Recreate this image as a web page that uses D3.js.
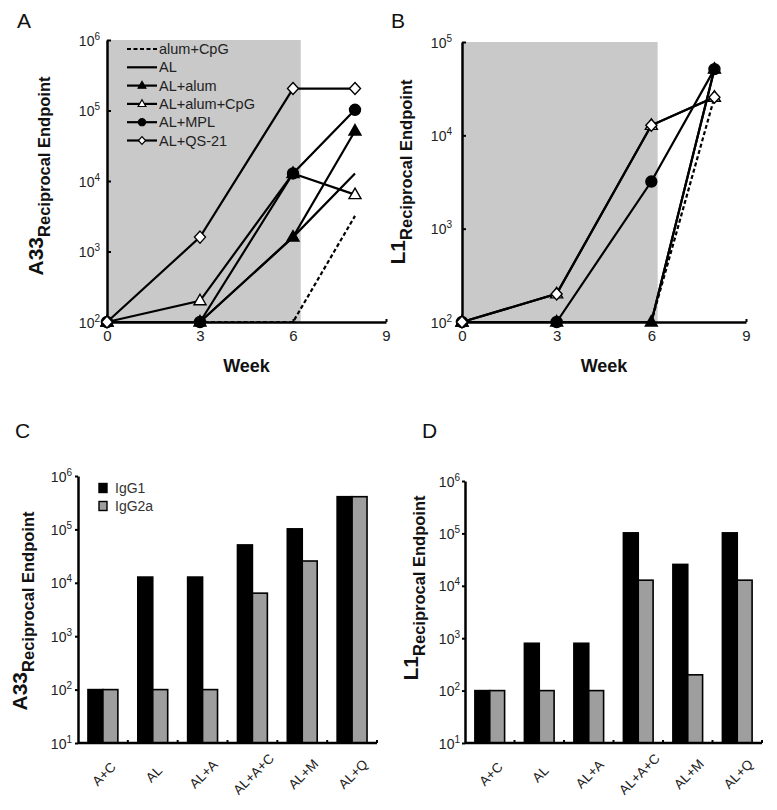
<!DOCTYPE html>
<html>
<head>
<meta charset="utf-8">
<script src="https://cdn.jsdelivr.net/npm/d3@7"></script>
<style>
body { margin: 0; background: #fff; }
text { font-family: "Liberation Sans", Arial, Helvetica, sans-serif; }
</style>
</head>
<body>
<svg id="fig" width="777" height="810"></svg>
<script>
// ---- data ----
var weeks = [0, 3, 6, 8];
var seriesNames = ["alum+CpG", "AL", "AL+alum", "AL+alum+CpG", "AL+MPL", "AL+QS-21"];

// panel A, A33 reciprocal endpoint
var a33AlumCpG   = [100, 100, 100, 3200];
var a33AL        = [100, 100, 1600, 12800];
var a33ALAlum    = [100, 100, 1600, 51200];
var a33ALAlumCpG = [100, 200, 12800, 6400];
var a33ALMPL     = [100, 100, 12800, 102400];
var a33ALQS21    = [100, 1600, 204800, 204800];

// panel B, L1 reciprocal endpoint
var l1AlumCpG   = [100, 100, 100, 25600];
var l1AL        = [100, 100, 100, 51200];
var l1ALAlum    = [100, 100, 100, 51200];
var l1ALAlumCpG = [100, 200, 12800, 25600];
var l1ALMPL     = [100, 100, 3200, 51200];
var l1ALQS21    = [100, 200, 12800, 25600];

// panels C and D, isotypes
var groups = ["A+C", "AL", "AL+A", "AL+A+C", "AL+M", "AL+Q"];
var isotypes = ["IgG1", "IgG2a"];
var a33IgG1  = [100, 12800, 12800, 51200, 102400, 409600];
var a33IgG2a = [100, 100, 100, 6400, 25600, 409600];
var l1IgG1   = [100, 800, 800, 102400, 25600, 102400];
var l1IgG2a  = [100, 100, 100, 12800, 200, 12800];

var weekTicks = [0, 3, 6, 9];

// ---- drawing ----
var svg = d3.select("#fig");

// line style + marker per series (same order as seriesNames)
var dashes  = ["4,2.5", null, null, null, null, null];
var markers = [null, null, "triFill", "triOpen", "dotFill", "diaOpen"];

function markerPath(kind, s) {
    if (kind == "triFill" || kind == "triOpen")
        return "M0," + (-6.5 * s) + "L" + (6 * s) + "," + (4 * s) + "L" + (-6 * s) + "," + (4 * s) + "Z";
    if (kind == "diaOpen")
        return "M0," + (-6 * s) + "L" + (5.5 * s) + ",0L0," + (6 * s) + "L" + (-5.5 * s) + ",0Z";
    return d3.symbol().type(d3.symbolCircle).size(95 * s * s)();
}
function markerFill(kind) {
    return (kind == "triFill" || kind == "dotFill") ? "#000" : "#fff";
}

function powLabel(sel, exps, dx) {
    // replaces tick text with 10 + superscript
    sel.selectAll(".tick text").each(function (d) {
        var t = d3.select(this).text(null)
            .attr("x", dx).attr("dy", "0.36em")
            .attr("fill", "#222").attr("font-size", 14)
            .attr("text-anchor", "end");
        t.append("tspan").text("10");
        t.append("tspan").attr("font-size", 10).attr("dy", "-0.6em")
            .text(Math.round(Math.log10(d)));
    });
}

function yTitle(x, y, main, sub, mainSize, subSize) {
    var t = svg.append("text")
        .attr("transform", "translate(" + x + "," + y + ") rotate(-90)")
        .attr("text-anchor", "middle")
        .attr("font-weight", "bold")
        .attr("fill", "#111");
    t.append("tspan").attr("font-size", mainSize).text(main);
    t.append("tspan").attr("font-size", subSize).attr("dy", subSize * 0.45).text(sub);
}

function letter(x, y, s) {
    svg.append("text").attr("x", x).attr("y", y)
        .attr("font-size", 21).attr("fill", "#111").text(s);
}

function linePanel(p) {
    var x = d3.scaleLinear().domain([0, 9]).range([p.left, p.right]);
    var y = d3.scaleLog().domain(p.yDomain).range([p.bottom, p.top]);
    var g = svg.append("g");

    // shaded immunisation period
    g.append("rect")
        .attr("x", x(0)).attr("y", y(p.yDomain[1]))
        .attr("width", x(p.shadeEnd) - x(0))
        .attr("height", y(p.yDomain[0]) - y(p.yDomain[1]))
        .attr("fill", "#c9c9c9");

    var line = d3.line().x((d, i) => x(weeks[i])).y(d => y(d));
    p.series.forEach((vals, k) => {
        g.append("path").datum(vals)
            .attr("d", line)
            .attr("fill", "none").attr("stroke", "#000")
            .attr("stroke-width", 2.2)
            .attr("stroke-dasharray", dashes[k]);
    });

    // axes
    var yAxis = g.append("g").attr("transform", "translate(" + x(0) + ",0)")
        .call(d3.axisLeft(y).tickValues(p.yTicks).tickSizeInner(-4).tickSizeOuter(0).tickPadding(p.yPad));
    yAxis.select(".domain").attr("stroke-width", 2.5);
    yAxis.selectAll(".tick line").attr("stroke-width", 2);
    powLabel(yAxis, p.yTicks, -p.yPad);

    var xAxis = g.append("g").attr("transform", "translate(0," + y(p.yDomain[0]) + ")")
        .call(d3.axisBottom(x).tickValues(weekTicks).tickSizeInner(-3).tickSizeOuter(0).tickPadding(8));
    xAxis.select(".domain").attr("stroke-width", 2.5);
    xAxis.selectAll(".tick line").attr("stroke-width", 2);
    xAxis.selectAll(".tick text").attr("font-size", 15).attr("fill", "#222");

    // markers on top
    p.series.forEach((vals, k) => {
        if (!markers[k]) return;
        g.selectAll(null).data(vals).enter().append("path")
            .attr("transform", (d, i) => "translate(" + x(weeks[i]) + "," + y(d) + ")")
            .attr("d", markerPath(markers[k], 1))
            .attr("fill", markerFill(markers[k]))
            .attr("stroke", "#000").attr("stroke-width", 1.4);
    });

    svg.append("text")
        .attr("x", (p.left + p.right) / 2).attr("y", 372)
        .attr("text-anchor", "middle").attr("font-weight", "bold")
        .attr("font-size", 18).attr("fill", "#111").text("Week");
}

function barPanel(p) {
    var x = d3.scaleBand().domain(groups).range([p.left, p.right])
        .paddingInner(0.4).paddingOuter(0.2);
    var xs = d3.scaleBand().domain(isotypes).range([0, x.bandwidth()]);
    var y = d3.scaleLog().domain([10, 1e6]).range([p.bottom, p.top]);
    var fills = { IgG1: "#000", IgG2a: "#9e9e9e" };
    var g = svg.append("g");

    [p.igg1, p.igg2a].forEach((vals, k) => {
        var iso = isotypes[k];
        g.selectAll(null).data(vals).enter().append("rect")
            .attr("x", (d, i) => x(groups[i]) + xs(iso))
            .attr("y", d => y(d))
            .attr("width", xs.bandwidth())
            .attr("height", d => y(10) - y(d))
            .attr("fill", fills[iso])
            .attr("stroke", "#000").attr("stroke-width", 1.6);
    });

    var yTicks = [10, 100, 1e3, 1e4, 1e5, 1e6];
    var yAxis = g.append("g").attr("transform", "translate(" + p.left + ",0)")
        .call(d3.axisLeft(y).tickValues(yTicks).tickSizeInner(3).tickSizeOuter(0).tickPadding(p.yPad));
    yAxis.select(".domain").attr("stroke-width", 2.5);
    yAxis.selectAll(".tick line").attr("stroke-width", 2);
    powLabel(yAxis, yTicks, -p.yPad);

    // x axis with small marks between groups
    var bounds = d3.range(1, groups.length + 1).map(i => p.left + x.step() * i);
    g.append("line").attr("x1", p.left).attr("x2", p.right)
        .attr("y1", y(10)).attr("y2", y(10))
        .attr("stroke", "#000").attr("stroke-width", 2.5);
    g.selectAll(null).data(bounds).enter().append("line")
        .attr("x1", d => d).attr("x2", d => d)
        .attr("y1", y(10) - 3).attr("y2", y(10))
        .attr("stroke", "#000").attr("stroke-width", 2);

    g.selectAll(null).data(groups).enter().append("text")
        .attr("transform", d => "translate(" + (x(d) + x.bandwidth() / 2 + 1) + "," + (y(10) + 31) + ") rotate(-45)")
        .attr("text-anchor", "middle").attr("dy", "0.35em")
        .attr("font-size", 13.5).attr("fill", "#222")
        .text(d => d);
}

// panel A
letter(17, 28, "A");
linePanel({
    left: 107, right: 386, top: 40, bottom: 322,
    yDomain: [100, 1e6], yTicks: [100, 1e3, 1e4, 1e5, 1e6], yPad: 7, shadeEnd: 6.25,
    series: [a33AlumCpG, a33AL, a33ALAlum, a33ALAlumCpG, a33ALMPL, a33ALQS21]
});
yTitle(43, 176, "A33", "Reciprocal Endpoint", 21, 16.5);

// legend in panel A
var legend = svg.append("g");
seriesNames.forEach((name, k) => {
    var ly = 49 + k * 18.3;
    legend.append("line").attr("x1", 127).attr("x2", 157).attr("y1", ly).attr("y2", ly)
        .attr("stroke", "#000").attr("stroke-width", 2.2)
        .attr("stroke-dasharray", dashes[k]);
    if (markers[k])
        legend.append("path").attr("transform", "translate(142," + ly + ")")
            .attr("d", markerPath(markers[k], 0.65))
            .attr("fill", markerFill(markers[k]))
            .attr("stroke", "#000").attr("stroke-width", 1.2);
    legend.append("text").attr("x", 159).attr("y", ly + 5)
        .attr("font-size", 14.5).attr("fill", "#222").text(name);
});

// panel B
letter(391, 28, "B");
linePanel({
    left: 462, right: 746, top: 42, bottom: 322,
    yDomain: [100, 1e5], yTicks: [100, 1e3, 1e4, 1e5], yPad: 10, shadeEnd: 6.2,
    series: [l1AlumCpG, l1AL, l1ALAlum, l1ALAlumCpG, l1ALMPL, l1ALQS21]
});
yTitle(405, 172, "L1", "Reciprocal Endpoint", 21, 16.5);

// panel C
letter(15, 438, "C");
barPanel({ left: 78, right: 377, top: 476, bottom: 743, yPad: 6, igg1: a33IgG1, igg2a: a33IgG2a });
yTitle(27, 611, "A33", "Reciprocal Endpoint", 21, 16.5);

// legend in panel C
var legC = svg.append("g");
isotypes.forEach((iso, k) => {
    var ly = 488 + k * 18;
    legC.append("rect").attr("x", 99).attr("y", ly - 4.5).attr("width", 8).attr("height", 9)
        .attr("fill", k == 0 ? "#000" : "#9e9e9e").attr("stroke", "#000").attr("stroke-width", 1.4);
    legC.append("text").attr("x", 115).attr("y", ly + 5)
        .attr("font-size", 14).attr("fill", "#333").text(iso);
});

// panel D
letter(422, 438, "D");
barPanel({ left: 465, right: 762, top: 481, bottom: 743, yPad: 5, igg1: l1IgG1, igg2a: l1IgG2a });
yTitle(418, 588, "L1", "Reciprocal Endpoint", 21, 16.5);
</script>
</body>
</html>
